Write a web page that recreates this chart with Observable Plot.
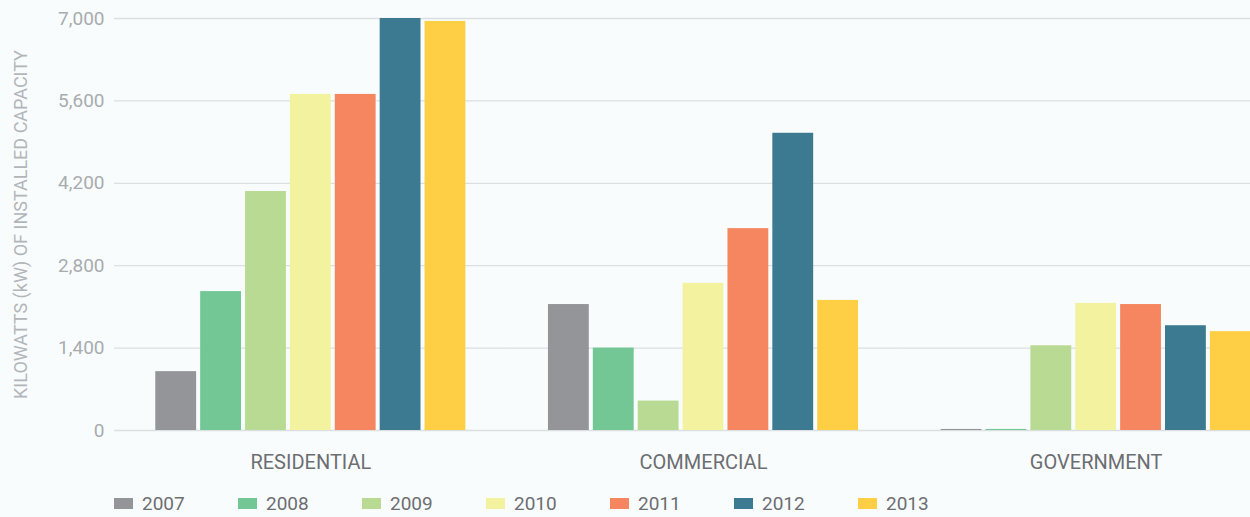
<!DOCTYPE html>
<html>
<head>
<meta charset="utf-8">
<script src="https://cdn.jsdelivr.net/npm/d3@7"></script>
<script src="https://cdn.jsdelivr.net/npm/@observablehq/plot@0.6"></script>
<style>
  html, body { margin: 0; padding: 0; background: #f8fcfd; overflow: hidden; }
  #wrap { width: 1250px; height: 517px; overflow: hidden; position: relative; font-family: Roboto, sans-serif; }
  #chart svg { max-width: none !important; }
  #chart svg [aria-label="y-axis label"] text, #chart svg [aria-label="y-axis label"] { font-size: 18px; fill: #b3b6b9; }
  #legend { display: flex; margin-left: 114px; padding-top: 10px; height: 27px; align-items: center; }
  .item { display: flex; align-items: center; width: 124px; font-size: 19px; color: #6d6e71; }
  .sw { width: 19px; height: 11px; margin-right: 9px; }
</style>
</head>
<body>
<div id="wrap"><div id="chart"></div><div id="legend"></div></div>
<script>
const categories = ["RESIDENTIAL", "COMMERCIAL", "GOVERNMENT"];
const years = ["2007", "2008", "2009", "2010", "2011", "2012", "2013"];
const residential = [1000, 2360, 4060, 5710, 5710, 7000, 6950];
const commercial = [2140, 1400, 500, 2500, 3430, 5050, 2210];
const government = [18, 18, 1440, 2160, 2140, 1780, 1680];
const colors = ["#939598", "#72c795", "#b9da93", "#f3f29f", "#f6865f", "#3c7a92", "#fecf44"];
const yTicks = [0, 1400, 2800, 4200, 5600, 7000];
const yLabel = "KILOWATTS (kW) OF INSTALLED CAPACITY";

const series = [residential, commercial, government];
const data = [];
categories.forEach((c, i) => years.forEach((y, j) => data.push({category: c, year: y, value: series[i][j]})));

const chart = Plot.plot({
  width: 1292,
  height: 480,
  marginTop: 18,
  marginBottom: 50,
  marginLeft: 114,
  marginRight: 0,
  style: {fontFamily: "Roboto, sans-serif", background: "#f8fcfd", overflow: "visible", maxWidth: "none"},
  fx: {domain: categories, padding: 0, round: false},
  x: {domain: years, paddingInner: 0.09, paddingOuter: 0.92, round: false, axis: null},
  y: {domain: [0, 7000]},
  color: {domain: years, range: colors},
  marks: [
    Plot.gridY(yTicks, {stroke: "#dcdfe2", strokeOpacity: 1, strokeWidth: 1.3}),
    Plot.barY(data, {fx: "category", x: "year", y: "value", fill: "year"}),
    Plot.axisY(yTicks, {tickFormat: d3.format(","), tickSize: 0, tickPadding: 10, fontSize: 19, color: "#a9acaf",
      label: yLabel, labelAnchor: "center", labelArrow: "none", labelOffset: 100}),
    Plot.axisFx({anchor: "bottom", tickSize: 0, tickPadding: 24, fontSize: 20, color: "#6d6e71", label: null})
  ]
});
document.getElementById("chart").appendChild(chart);

const legend = document.getElementById("legend");
years.forEach((y, i) => {
  const it = document.createElement("div");
  it.className = "item";
  it.innerHTML = `<span class="sw" style="background:${colors[i]}"></span><span>${y}</span>`;
  legend.appendChild(it);
});
</script>
</body>
</html>
